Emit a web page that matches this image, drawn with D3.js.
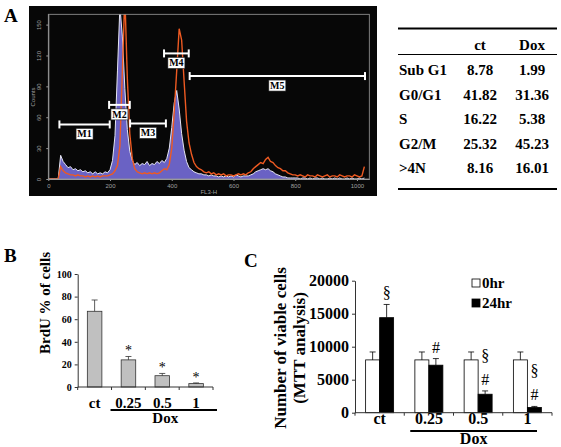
<!DOCTYPE html>
<html><head><meta charset="utf-8">
<script src="https://cdn.jsdelivr.net/npm/d3@7"></script>
<style>body{margin:0;background:#fff}svg{display:block}</style>
</head><body><svg id="c" width="561" height="447"></svg>
<script>
// ---------- Panel A: DNA content histogram (FL3-H) ----------
const channels = [0,8,16,24,32,40,48,56,64,72,80,88,96,104,112,120,128,136,144,152,160,168,176,184,192,200,208,216,224,232,240,248,256,264,272,280,288,296,304,312,320,328,336,344,352,360,368,376,384,392,400,408,416,424,432,440,448,456,464,472,480,488,496,504,512,520,528,536,544,552,560,568,576,584,592,600,608,616,624,632,640,648,656,664,672,680,688,696,704,712,720,728,736,744,752,760,768,776,784,792,800,808,816,824,832,840,848,856,864,872,880,888,896,904,912,920,928,936,944,952,960,968,976,984,992,1000,1008,1016,1024];
const ctCounts = [0,0,0,0,0,23,17,14,11,12,9,10,8,9,7,8,6,7,5,7,5,6,5,7,6,9,18,42,105,168,138,88,48,27,18,14,16,13,15,14,17,13,15,14,17,15,18,16,20,30,50,74,86,68,44,28,17,11,9,7,6,5,5,4,4,3,4,3,3,2,3,2,3,2,3,2,4,3,2,3,3,3,4,5,7,8,9,10,9,10,8,7,5,4,3,2,2,1,1,1,1,1,0,1,1,0,1,0,1,1,0,1,0,0,1,0,1,0,1,0,0,1,0,1,0,0,1,0,1];
const doxCounts = [0,0,0,0,0,12,8,6,5,4,4,3,4,3,3,2,3,2,3,2,3,2,3,3,3,4,5,8,13,32,105,178,98,44,20,10,7,6,5,6,5,6,5,6,5,6,8,10,9,14,30,65,105,146,135,95,56,35,24,16,12,10,9,7,6,7,5,6,4,5,4,5,3,4,4,3,4,5,4,5,4,6,7,10,12,14,16,15,19,21,17,16,13,11,10,8,8,6,5,4,4,3,4,3,2,4,3,3,2,4,3,2,3,4,2,3,3,2,4,3,2,3,3,2,4,3,2,3,12];
const histXTicks = [0,200,400,600,800,1000];
const histYTicks = [0,30,60,90,120,150];
const markerNames = ["M1","M2","M3","M4","M5"];
const markerStart = [36,197,265,375,458];
const markerEnd = [199,264,381,455,1026];
const markerLevel = [53,72,54,122,100];

// ---------- Panel A: table ----------
const phases = ["Sub G1","G0/G1","S","G2/M",">4N"];
const tableCols = ["ct","Dox"];
const phaseCt = ["8.78","41.82","16.22","25.32","8.16"];
const phaseDox = ["1.99","31.36","5.38","45.23","16.01"];

// ---------- Panel B: BrdU ----------
const brduCats = ["ct","0.25","0.5","1"];
const brduMean = [67,24,10,3];
const brduErr = [10,3,2,0.6];
const brduMarks = ["","*","*","*"];
const brduYTicks = [0,20,40,60,80,100];

// ---------- Panel C: MTT ----------
const mttCats = ["ct","0.25","0.5","1"];
const mttSeries = ["0hr","24hr"];
const mtt0 = [8000,8000,8000,8000];
const mtt0Err = [1200,1200,1200,1200];
const mtt24 = [14400,7200,2800,800];
const mtt24Err = [2000,1000,500,150];
const mttYTicks = [0,5000,10000,15000,20000];
const mttMarks = [["§"],["#"],["§","#"],["§","#"]];

const SERIF = "'Liberation Serif','Times New Roman',serif";
const SANS = "'Liberation Sans',Arial,sans-serif";
const svg = d3.select("#c");
const fmt = d3.format("d");

function letter(t,x,y){
  svg.append("text").attr("x",x).attr("y",y).text(t)
    .attr("font-family",SERIF).attr("font-weight","bold").attr("font-size",19);
}

// ================= Panel A =================
letter("A",4,22);
svg.append("rect").attr("x",29).attr("y",6).attr("width",348).attr("height",190).attr("fill","#070707");

const hx = d3.scaleLinear().domain([0,1040]).range([48.3,369.3]);
const hy = d3.scaleLinear().domain([0,160]).range([179,14.3]);

svg.append("clipPath").attr("id","hclip").append("rect")
  .attr("x",hx(0)).attr("y",hy(160)).attr("width",hx(1040)-hx(0)).attr("height",hy(0)-hy(160));

const gH = svg.append("g").attr("clip-path","url(#hclip)");
const ctData = channels.map((c,i)=>[c,ctCounts[i]]);
const doxData = channels.map((c,i)=>[c,doxCounts[i]]);
gH.append("path").datum(ctData)
  .attr("d",d3.area().x(d=>hx(d[0])).y0(hy(0)).y1(d=>hy(d[1])))
  .attr("fill","#6a62c4");
gH.append("path").datum(ctData)
  .attr("d",d3.line().x(d=>hx(d[0])).y(d=>hy(d[1])))
  .attr("fill","none").attr("stroke","#e6e6f2").attr("stroke-width",1);
gH.append("path").datum(doxData)
  .attr("d",d3.line().x(d=>hx(d[0])).y(d=>hy(d[1])))
  .attr("fill","none").attr("stroke","#ee5a22").attr("stroke-width",1.4);

// frame
svg.append("rect").attr("x",hx(0)).attr("y",hy(160)).attr("width",hx(1040)-hx(0)).attr("height",hy(0)-hy(160))
  .attr("fill","none").attr("stroke","#9a9a9a").attr("stroke-width",0.8);

// axes
const hxAxis = svg.append("g").attr("transform",`translate(0,${hy(0)})`)
  .call(d3.axisBottom(hx).tickValues(histXTicks).tickFormat(fmt).tickSize(2).tickSizeOuter(0));
hxAxis.select(".domain").attr("stroke","#9a9a9a");
hxAxis.selectAll(".tick line").attr("stroke","#9a9a9a");
hxAxis.selectAll("text").attr("fill","#a0a0a0").attr("font-family",SANS).attr("font-size",6).attr("dy","0.6em");
const hyAxis = svg.append("g").attr("transform",`translate(${hx(0)},0)`)
  .call(d3.axisLeft(hy).tickValues(histYTicks).tickFormat(fmt).tickSize(2).tickSizeOuter(0));
hyAxis.select(".domain").attr("stroke","#9a9a9a");
hyAxis.selectAll(".tick line").attr("stroke","#9a9a9a");
hyAxis.selectAll("text").attr("fill","#a0a0a0").attr("font-family",SANS).attr("font-size",6)
  .attr("text-anchor","middle").attr("x",0).attr("dy",0)
  .attr("transform","translate(-7,0) rotate(-90)");
svg.append("text").attr("transform",`translate(35,97) rotate(-90)`).attr("text-anchor","middle")
  .attr("font-family",SANS).attr("font-size",6).attr("fill","#a0a0a0").text("Counts");
svg.append("text").attr("x",(hx(0)+hx(1040))/2).attr("y",194).attr("text-anchor","middle")
  .attr("font-family",SANS).attr("font-size",6).attr("fill","#a0a0a0").text("FL3-H");

// markers
markerNames.forEach((m,i)=>{
  const x1=hx(markerStart[i]), x2=hx(markerEnd[i]), y=hy(markerLevel[i]);
  const g=svg.append("g");
  g.append("line").attr("x1",x1).attr("x2",x2).attr("y1",y).attr("y2",y).attr("stroke","#fff").attr("stroke-width",2);
  [x1,x2].forEach(x=>g.append("line").attr("x1",x).attr("x2",x).attr("y1",y-4).attr("y2",y+4).attr("stroke","#fff").attr("stroke-width",2));
  const cx=(x1+x2)/2, cy=y+9.5;
  g.append("rect").attr("x",cx-8.5).attr("y",cy-5.5).attr("width",17).attr("height",11).attr("fill","#fff").attr("stroke","#222").attr("stroke-width",0.6);
  g.append("text").attr("x",cx).attr("y",cy+3.5).attr("text-anchor","middle")
    .attr("font-family",SERIF).attr("font-weight","bold").attr("font-size",10).text(m);
});

// table
const tL=398, tR=557;
svg.append("line").attr("x1",tL).attr("x2",tR).attr("y1",28.5).attr("y2",28.5).attr("stroke","#000").attr("stroke-width",2);
svg.append("line").attr("x1",tL).attr("x2",tR).attr("y1",54.5).attr("y2",54.5).attr("stroke","#000").attr("stroke-width",1.2);
svg.append("line").attr("x1",tL).attr("x2",tR).attr("y1",189).attr("y2",189).attr("stroke","#000").attr("stroke-width",2);
const colX=[480,532];
const tfont = s=>s.attr("font-family",SERIF).attr("font-weight","bold").attr("font-size",15);
tableCols.forEach((c,j)=>tfont(svg.append("text").attr("x",colX[j]).attr("y",50).attr("text-anchor","middle").text(c)));
phases.forEach((p,i)=>{
  const y=75+i*24.6;
  tfont(svg.append("text").attr("x",399).attr("y",y).text(p));
  tfont(svg.append("text").attr("x",colX[0]).attr("y",y).attr("text-anchor","middle").text(phaseCt[i]));
  tfont(svg.append("text").attr("x",colX[1]).attr("y",y).attr("text-anchor","middle").text(phaseDox[i]));
});

// ================= Panel B =================
letter("B",4,262);
const bx = d3.scaleBand().domain(brduCats).range([77.7,213]).padding(0);
const by = d3.scaleLinear().domain([0,100]).range([387,274]);
const bw = bx.bandwidth()*0.43;
const gB = svg.append("g");
brduCats.forEach((c,i)=>{
  const cx = bx(c)+bx.bandwidth()/2;
  gB.append("rect").attr("x",cx-bw/2).attr("y",by(brduMean[i])).attr("width",bw).attr("height",by(0)-by(brduMean[i]))
    .attr("fill","#c0c0c0").attr("stroke","#333").attr("stroke-width",0.8);
  const et = by(brduMean[i]+brduErr[i]);
  gB.append("line").attr("x1",cx).attr("x2",cx).attr("y1",by(brduMean[i])).attr("y2",et).attr("stroke","#333").attr("stroke-width",0.8);
  gB.append("line").attr("x1",cx-3).attr("x2",cx+3).attr("y1",et).attr("y2",et).attr("stroke","#333").attr("stroke-width",0.8);
  if(brduMarks[i]) gB.append("text").attr("x",cx).attr("y",et-1).attr("text-anchor","middle")
    .attr("font-family",SERIF).attr("font-size",14).text(brduMarks[i]);
  svg.append("text").attr("x",cx).attr("y",408).attr("text-anchor","middle")
    .attr("font-family",SERIF).attr("font-weight","bold").attr("font-size",15).text(c);
});
const byAxis = svg.append("g").attr("transform",`translate(${bx.range()[0]},0)`)
  .call(d3.axisLeft(by).tickValues(brduYTicks).tickSize(3).tickSizeOuter(0));
byAxis.selectAll("text").attr("font-family",SERIF).attr("font-weight","bold").attr("font-size",10).attr("fill","#000");
byAxis.selectAll("line,path").attr("stroke","#333");
svg.append("line").attr("x1",bx.range()[0]).attr("x2",bx.range()[1]).attr("y1",by(0)).attr("y2",by(0)).attr("stroke","#333");
d3.range(brduCats.length+1).forEach(k=>{
  const x=bx.range()[0]+k*bx.step();
  svg.append("line").attr("x1",x).attr("x2",x).attr("y1",by(0)).attr("y2",by(0)+3).attr("stroke","#333");
});
svg.append("line").attr("x1",bx("0.25")-1).attr("x2",bx.range()[1]+4).attr("y1",410).attr("y2",410).attr("stroke","#000").attr("stroke-width",2);
svg.append("text").attr("x",(bx("0.25")+bx.range()[1])/2+3).attr("y",423).attr("text-anchor","middle")
  .attr("font-family",SERIF).attr("font-weight","bold").attr("font-size",15).text("Dox");
svg.append("text").attr("transform","translate(50,303) rotate(-90)").attr("text-anchor","middle")
  .attr("font-family",SERIF).attr("font-weight","bold").attr("font-size",15).text("BrdU % of cells");

// ================= Panel C =================
letter("C",244,267);
const cx0 = d3.scaleBand().domain(mttCats).range([355,552]).padding(0);
const cy = d3.scaleLinear().domain([0,20000]).range([412.7,280.7]);
const cbw = 14;
const gC = svg.append("g");
mttCats.forEach((c,i)=>{
  const mid = cx0(c)+cx0.bandwidth()/2;
  const bars=[{v:mtt0[i],e:mtt0Err[i],x:mid-cbw,fill:"#fff"},{v:mtt24[i],e:mtt24Err[i],x:mid,fill:"#000"}];
  bars.forEach(b=>{
    gC.append("rect").attr("x",b.x).attr("y",cy(b.v)).attr("width",cbw).attr("height",cy(0)-cy(b.v))
      .attr("fill",b.fill).attr("stroke","#000").attr("stroke-width",0.8);
    const et=cy(b.v+b.e), bc=b.x+cbw/2;
    gC.append("line").attr("x1",bc).attr("x2",bc).attr("y1",cy(b.v)).attr("y2",et).attr("stroke","#000").attr("stroke-width",0.8);
    gC.append("line").attr("x1",bc-3).attr("x2",bc+3).attr("y1",et).attr("y2",et).attr("stroke","#000").attr("stroke-width",0.8);
  });
  const top = cy(mtt24[i]+mtt24Err[i]);
  const ms = mttMarks[i];
  ms.forEach((m,k)=>{
    const yy = top-6-(ms.length-1-k)*24;
    gC.append("text").attr("x",mid+cbw/2).attr("y",yy).attr("text-anchor","middle")
      .attr("font-family",SERIF).attr("font-size",16).text(m);
  });
  svg.append("text").attr("x",mid).attr("y",424).attr("text-anchor","middle")
    .attr("font-family",SERIF).attr("font-weight","bold").attr("font-size",16).text(c);
});
const cyAxis = svg.append("g").attr("transform",`translate(${cx0.range()[0]},0)`)
  .call(d3.axisLeft(cy).tickValues(mttYTicks).tickFormat(fmt).tickSize(3).tickSizeOuter(0));
cyAxis.selectAll("text").attr("font-family",SERIF).attr("font-weight","bold").attr("font-size",16).attr("fill","#000");
cyAxis.selectAll("line,path").attr("stroke","#333");
svg.append("line").attr("x1",cx0.range()[0]).attr("x2",cx0.range()[1]).attr("y1",cy(0)).attr("y2",cy(0)).attr("stroke","#333");
d3.range(mttCats.length+1).forEach(k=>{
  const x=cx0.range()[0]+k*cx0.step();
  svg.append("line").attr("x1",x).attr("x2",x).attr("y1",cy(0)).attr("y2",cy(0)+3).attr("stroke","#333");
});
svg.append("line").attr("x1",cx0("0.25")+6).attr("x2",cx0("1")+cx0.bandwidth()-15).attr("y1",431).attr("y2",431).attr("stroke","#000").attr("stroke-width",2);
svg.append("text").attr("x",(cx0("0.25")+6+cx0("1")+cx0.bandwidth()-15)/2).attr("y",444).attr("text-anchor","middle")
  .attr("font-family",SERIF).attr("font-weight","bold").attr("font-size",16).text("Dox");
const cyl = svg.append("text").attr("transform","translate(286,348) rotate(-90)").attr("text-anchor","middle")
  .attr("font-family",SERIF).attr("font-weight","bold").attr("font-size",17);
cyl.append("tspan").attr("x",0).attr("dy",0).text("Number of viable cells");
cyl.append("tspan").attr("x",0).attr("dy",19).text("(MTT analysis)");
// legend
const legFill=["#fff","#000"];
mttSeries.forEach((s,i)=>{
  const y=279+i*20;
  svg.append("rect").attr("x",472).attr("y",y).attr("width",8).attr("height",8).attr("fill",legFill[i]).attr("stroke","#000").attr("stroke-width",0.8);
  svg.append("text").attr("x",482).attr("y",y+8.5).attr("font-family",SERIF).attr("font-weight","bold").attr("font-size",15).text(s);
});
</script></body></html>
